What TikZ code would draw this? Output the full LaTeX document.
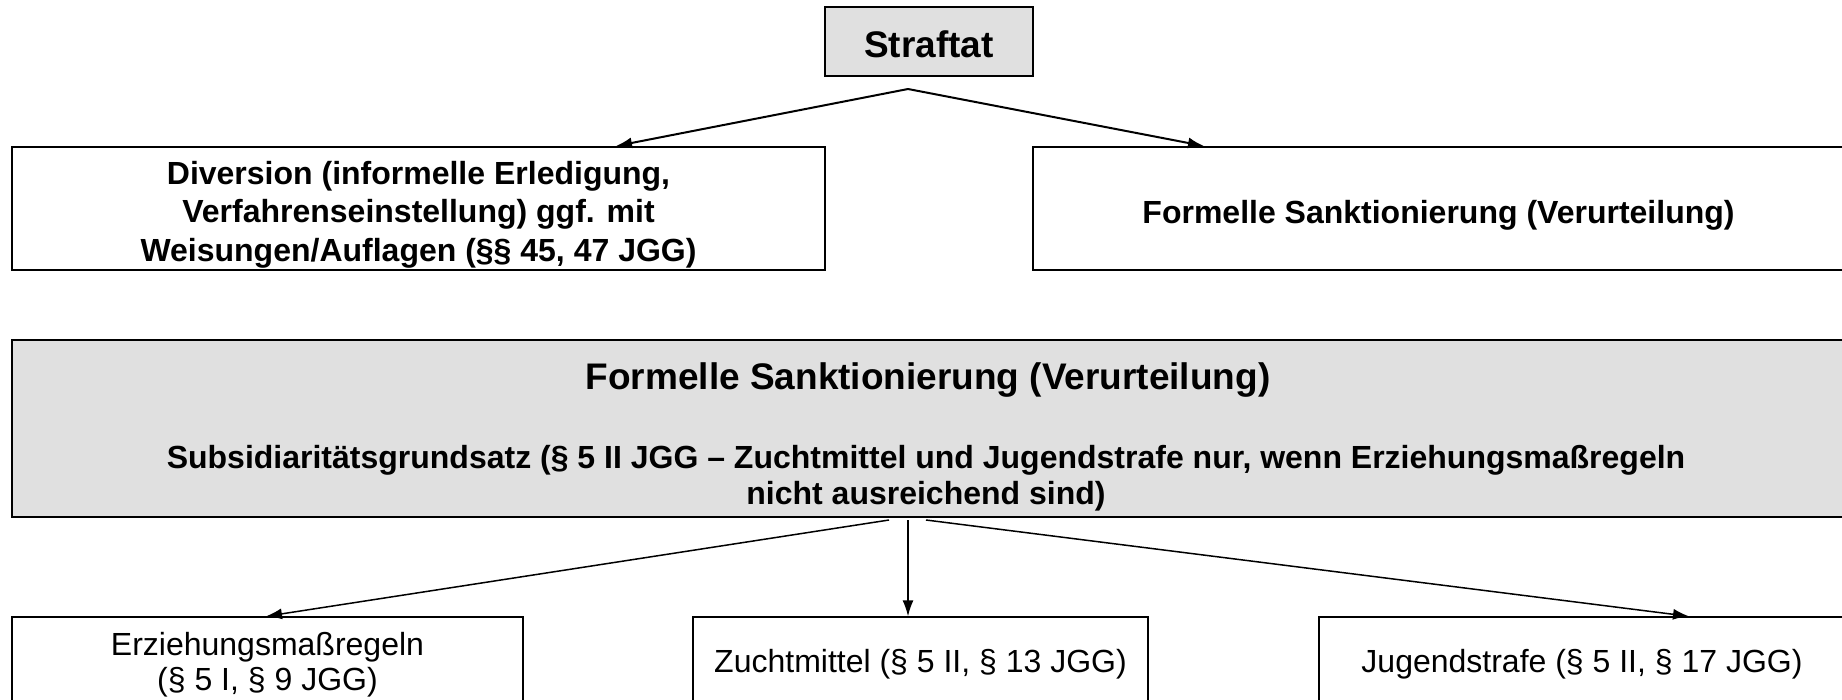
\documentclass[tikz,border=0pt]{standalone}
\usepackage{fontspec}
\setmainfont{Liberation Sans}
\usetikzlibrary{arrows.meta}
\definecolor{boxgray}{RGB}{224,224,224}
\begin{document}
\begin{tikzpicture}[x=1pt,y=-1pt,
  box/.style={draw=black, line width=2pt, rectangle, inner sep=0pt, align=center,
    font=\bfseries\fontsize{32}{38.5}\selectfont},
  thinbox/.style={draw=black, line width=1.4pt, rectangle, inner sep=0pt, align=center,
    font=\fontsize{32}{35}\selectfont},
  bigfont/.style={font=\bfseries\fontsize{37}{42}\selectfont},
  txt/.style={inner sep=0pt, align=center, font=\bfseries\fontsize{32}{36}\selectfont},
  arr/.style={-{Latex[length=16pt,width=11pt]}, line width=2pt},
  thinarr/.style={-{Latex[length=16pt,width=11pt]}, line width=1.5pt}
]
\clip (0,0) rectangle (1842,699);
\fill[white] (0,0) rectangle (1842,699);

\node[box, fill=boxgray, minimum width=208pt, minimum height=69pt] (straftat) at (929,41.5) {};
\node[txt, bigfont] (straftattext) at (929,44) {Straftat};

\node[box, minimum width=813pt, minimum height=123pt] (div) at (418.5,208.5) {};
\node[txt, font=\bfseries\fontsize{32}{38.5}\selectfont] (divtext) at (418.5,214.5)
  {Diversion (informelle Erledigung,\\Verfahrenseinstellung) ggf. mit\\Weisungen/Auflagen (§§ 45, 47 JGG)};
\node[box, minimum width=811pt, minimum height=123pt] (formal) at (1438.5,208.5) {};
\node[txt] (formaltext) at (1438.5,215) {Formelle Sanktionierung (Verurteilung)};

\node[box, fill=boxgray, minimum width=1832pt, minimum height=177pt] (sank) at (928,428.5) {};
\node[txt, bigfont] (sankhead) at (928,380.5) {Formelle Sanktionierung (Verurteilung)};
\node[txt] (sanksub) at (926,478) {Subsidiaritätsgrundsatz (§ 5 II JGG – Zuchtmittel und Jugendstrafe nur, wenn Erziehungsmaßregeln\\nicht ausreichend sind)};

\node[thinbox, minimum width=511pt, minimum height=95pt] (erz) at (267.5,664.5)
  {Erziehungsmaßregeln\\(§ 5 I, § 9 JGG)};
\node[thinbox, minimum width=455pt, minimum height=95pt] (zucht) at (920.5,664.5)
  {Zuchtmittel (§ 5 II, § 13 JGG)};
\node[thinbox, minimum width=526pt, minimum height=95pt] (jug) at (1582,664.5)
  {Jugendstrafe (§ 5 II, § 17 JGG)};

\coordinate (apex) at (908,89);
\draw[arr] (apex) -- (616,0 |- div.north);
\draw[arr] (apex) -- (1204,0 |- formal.north);

\coordinate (s1) at (889,520);
\coordinate (s2) at (908,520);
\coordinate (s3) at (926,520);
\draw[thinarr] (s1) -- (266,0 |- erz.north);
\draw[thinarr] (s2) -- (908,0 |- zucht.north);
\draw[thinarr] (s3) -- (1689,0 |- jug.north);
\end{tikzpicture}
\end{document}
